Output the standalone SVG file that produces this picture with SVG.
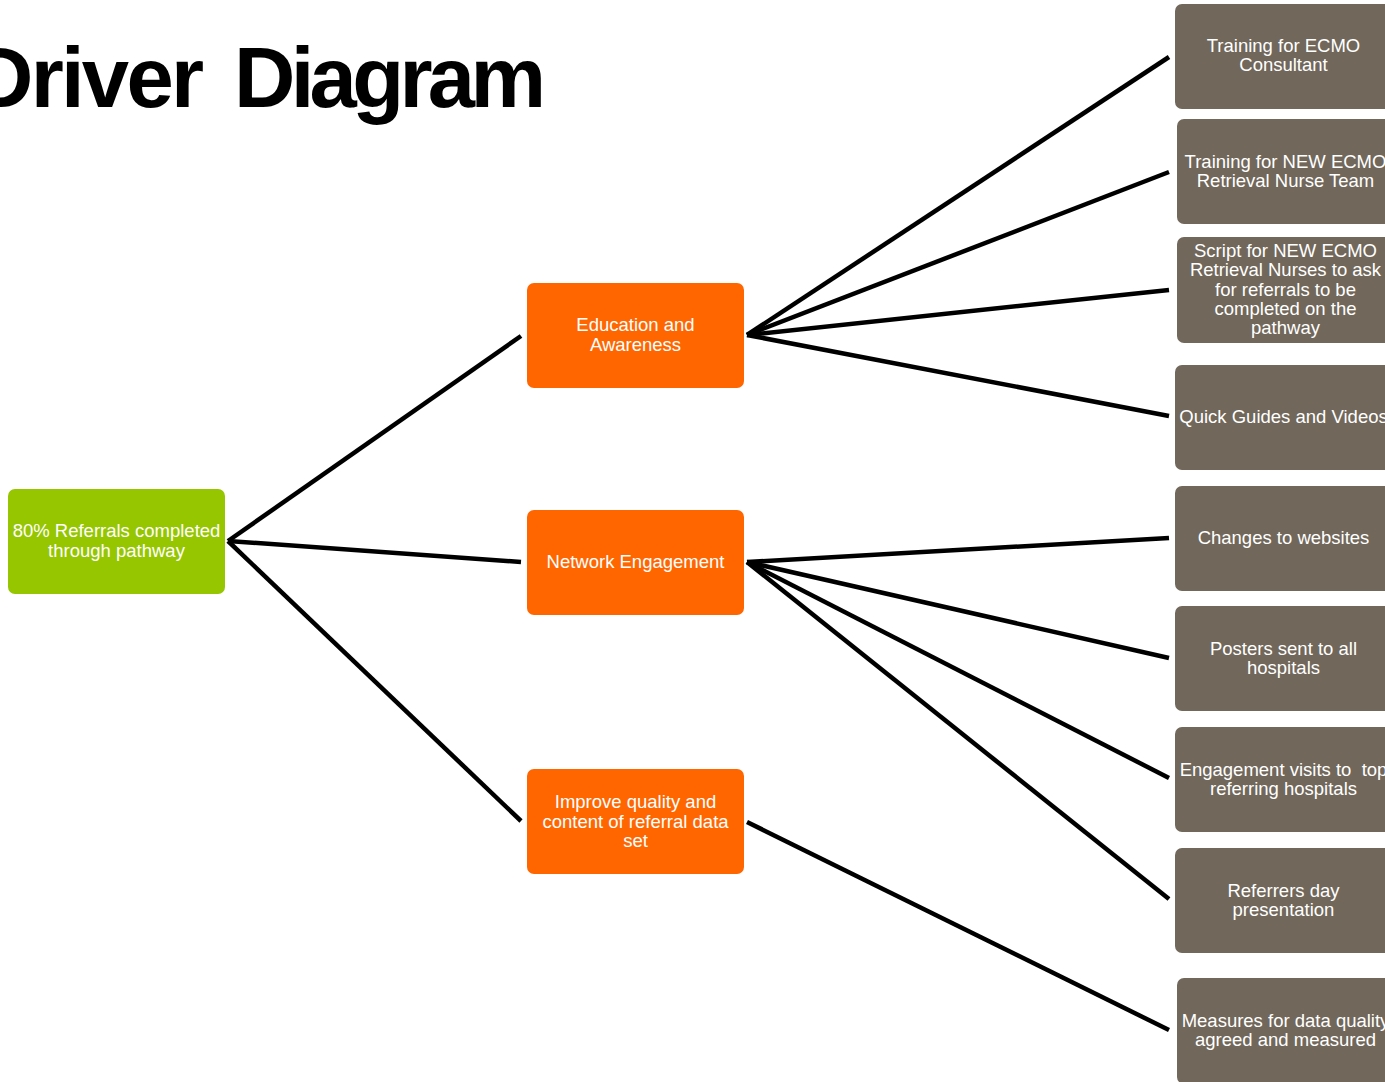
<svg xmlns="http://www.w3.org/2000/svg" width="1385" height="1082" viewBox="0 0 1385 1082">
<style>
.t{font-family:"Liberation Sans",Arial,sans-serif;font-size:18.5px;fill:#fff;text-anchor:middle}
.g{fill:#95C600}
.o{fill:#FF6600}
.b{fill:#71675A}
.c line{stroke:#000;stroke-width:4.5;stroke-linecap:butt}
</style>
<rect width="1385" height="1082" fill="#fff"/>
<text id="title" y="107" font-family="Liberation Sans,Arial,sans-serif" font-weight="bold" font-size="85" fill="#000"><tspan x="-28" textLength="232" lengthAdjust="spacing">Driver</tspan><tspan x="234" textLength="312" lengthAdjust="spacing">Diagram</tspan></text>
<g class="c" id="connectors">
<line x1="228" y1="541" x2="521" y2="336"/>
<line x1="228" y1="541" x2="521" y2="562"/>
<line x1="228" y1="541" x2="521" y2="821"/>
<line x1="747" y1="335" x2="1169" y2="57"/>
<line x1="747" y1="335" x2="1169" y2="172"/>
<line x1="747" y1="335" x2="1169" y2="290"/>
<line x1="747" y1="335" x2="1169" y2="416"/>
<line x1="747" y1="562" x2="1169" y2="538"/>
<line x1="747" y1="562" x2="1169" y2="658"/>
<line x1="747" y1="562" x2="1169" y2="778"/>
<line x1="747" y1="562" x2="1169" y2="899"/>
<line x1="747" y1="822" x2="1169" y2="1030"/>
</g>
<g id="goal"><rect class="g" x="8" y="489" width="217" height="105" rx="7"/><text class="t"><tspan x="116.5" y="537">80% Referrals completed</tspan><tspan x="116.5" y="557">through pathway</tspan></text></g>
<g id="edu"><rect class="o" x="527" y="283" width="217" height="105" rx="7"/><text class="t"><tspan x="635.5" y="331">Education and</tspan><tspan x="635.5" y="351">Awareness</tspan></text></g>
<g id="net"><rect class="o" x="527" y="510" width="217" height="105" rx="7"/><text class="t"><tspan x="635.5" y="568">Network Engagement</tspan></text></g>
<g id="imp"><rect class="o" x="527" y="769" width="217" height="105" rx="7"/><text class="t"><tspan x="635.5" y="808">Improve quality and</tspan><tspan x="635.5" y="828">content of referral data</tspan><tspan x="635.5" y="847">set</tspan></text></g>
<g id="b1"><rect class="b" x="1175" y="4" width="217" height="105" rx="7"/><text class="t"><tspan x="1283.5" y="52">Training for ECMO</tspan><tspan x="1283.5" y="71">Consultant</tspan></text></g>
<g id="b2"><rect class="b" x="1177" y="119" width="217" height="105" rx="7"/><text class="t"><tspan x="1285.5" y="168">Training for NEW ECMO</tspan><tspan x="1285.5" y="187">Retrieval Nurse Team</tspan></text></g>
<g id="b3"><rect class="b" x="1177" y="237" width="217" height="106" rx="7"/><text class="t"><tspan x="1285.5" y="257">Script for NEW ECMO</tspan><tspan x="1285.5" y="276">Retrieval Nurses to ask</tspan><tspan x="1285.5" y="296">for referrals to be</tspan><tspan x="1285.5" y="315">completed on the</tspan><tspan x="1285.5" y="334">pathway</tspan></text></g>
<g id="b4"><rect class="b" x="1175" y="365" width="217" height="105" rx="7"/><text class="t"><tspan x="1283.5" y="423">Quick Guides and Videos</tspan></text></g>
<g id="b5"><rect class="b" x="1175" y="486" width="217" height="105" rx="7"/><text class="t"><tspan x="1283.5" y="544">Changes to websites</tspan></text></g>
<g id="b6"><rect class="b" x="1175" y="606" width="217" height="105" rx="7"/><text class="t"><tspan x="1283.5" y="655">Posters sent to all</tspan><tspan x="1283.5" y="674">hospitals</tspan></text></g>
<g id="b7"><rect class="b" x="1175" y="727" width="217" height="105" rx="7"/><text class="t" xml:space="preserve"><tspan x="1283.5" y="776">Engagement visits to  top</tspan><tspan x="1283.5" y="795">referring hospitals</tspan></text></g>
<g id="b8"><rect class="b" x="1175" y="848" width="217" height="105" rx="7"/><text class="t"><tspan x="1283.5" y="897">Referrers day</tspan><tspan x="1283.5" y="916">presentation</tspan></text></g>
<g id="b9"><rect class="b" x="1177" y="978" width="217" height="106" rx="7"/><text class="t"><tspan x="1285.5" y="1027">Measures for data quality</tspan><tspan x="1285.5" y="1046">agreed and measured</tspan></text></g>
</svg>
